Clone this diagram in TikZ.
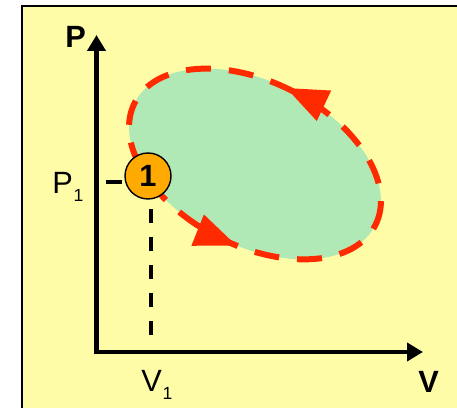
\documentclass[tikz,border=0pt]{standalone}
\usepackage{fontspec}
\setmainfont{Liberation Sans}
\usetikzlibrary{arrows.meta,decorations.markings}
\definecolor{fondo}{RGB}{255,252,168}
\definecolor{verde}{RGB}{176,233,181}
\definecolor{rojo}{RGB}{255,42,0}
\definecolor{naranja}{RGB}{255,170,0}
\newcommand{\indice}[1]{\kern0.5pt\raisebox{-4.5pt}{\fontsize{10}{10}\selectfont #1}}

\begin{document}
\begin{tikzpicture}[x=0.02cm, y=0.02cm,
    flecha/.tip={Triangle[length=0.32cm,width=0.36cm]},
    eje/.style={line width=2.7pt, flecha-flecha},
    etiqueta/.style={font=\fontsize{17.5}{20}\selectfont, inner sep=0pt, anchor=base west},
    estado/.style={circle, draw, fill=naranja, line width=0.8pt, minimum size=0.92cm,
        inner sep=0pt, font=\fontsize{17.5}{20}\selectfont\bfseries},
    guia/.style={line width=2.3pt}]
    \useasboundingbox (0,0) rectangle (457,408);
    \clip (0,0) rectangle (457,408);
    \draw[fill=fondo, line width=0.8pt] (22,-20) rectangle (480,402);

    % ciclo en el plano P-V
    \filldraw[fill=verde, draw=rojo, line width=3.4pt, dash pattern=on 0.5cm off 0.36cm,
        rotate around={-27:(255,244)}, postaction={decorate},
        decoration={markings,
            mark=at position 0.26 with {\arrow{Triangle[length=0.84cm,width=0.64cm]}},
            mark=at position 0.78 with {\arrow{Triangle[length=0.84cm,width=0.64cm]}}}]
        (255,244) ellipse (135 and 82);

    % ejes
    \coordinate (O) at (96.5,56);
    \coordinate (ymax) at (96.5,373);
    \coordinate (xmax) at (423,56);
    \draw[eje] (ymax) -- (O) -- (xmax);
    \node[etiqueta, font=\fontsize{17.5}{20}\selectfont\bfseries] (P) at (65,360) {P};
    \node[etiqueta, font=\fontsize{17.5}{20}\selectfont\bfseries] (V) at (418,15) {V};

    % estado 1
    \node[estado] (uno) at (148,232) {1};
    \coordinate (p1a) at (106,226);
    \coordinate (p1b) at (122,226);
    \draw[guia] (p1a) -- (p1b);
    \coordinate (v1a) at (151,199);
    \coordinate (v1b) at (151,71);
    \draw[guia, dash pattern=on 0.28cm off 0.28cm] (v1a) -- (v1b);
    \node[etiqueta] (P1) at (52,214) {P\indice{1}};
    \node[etiqueta] (V1) at (141,16) {V\indice{1}};
\end{tikzpicture}
\end{document}
